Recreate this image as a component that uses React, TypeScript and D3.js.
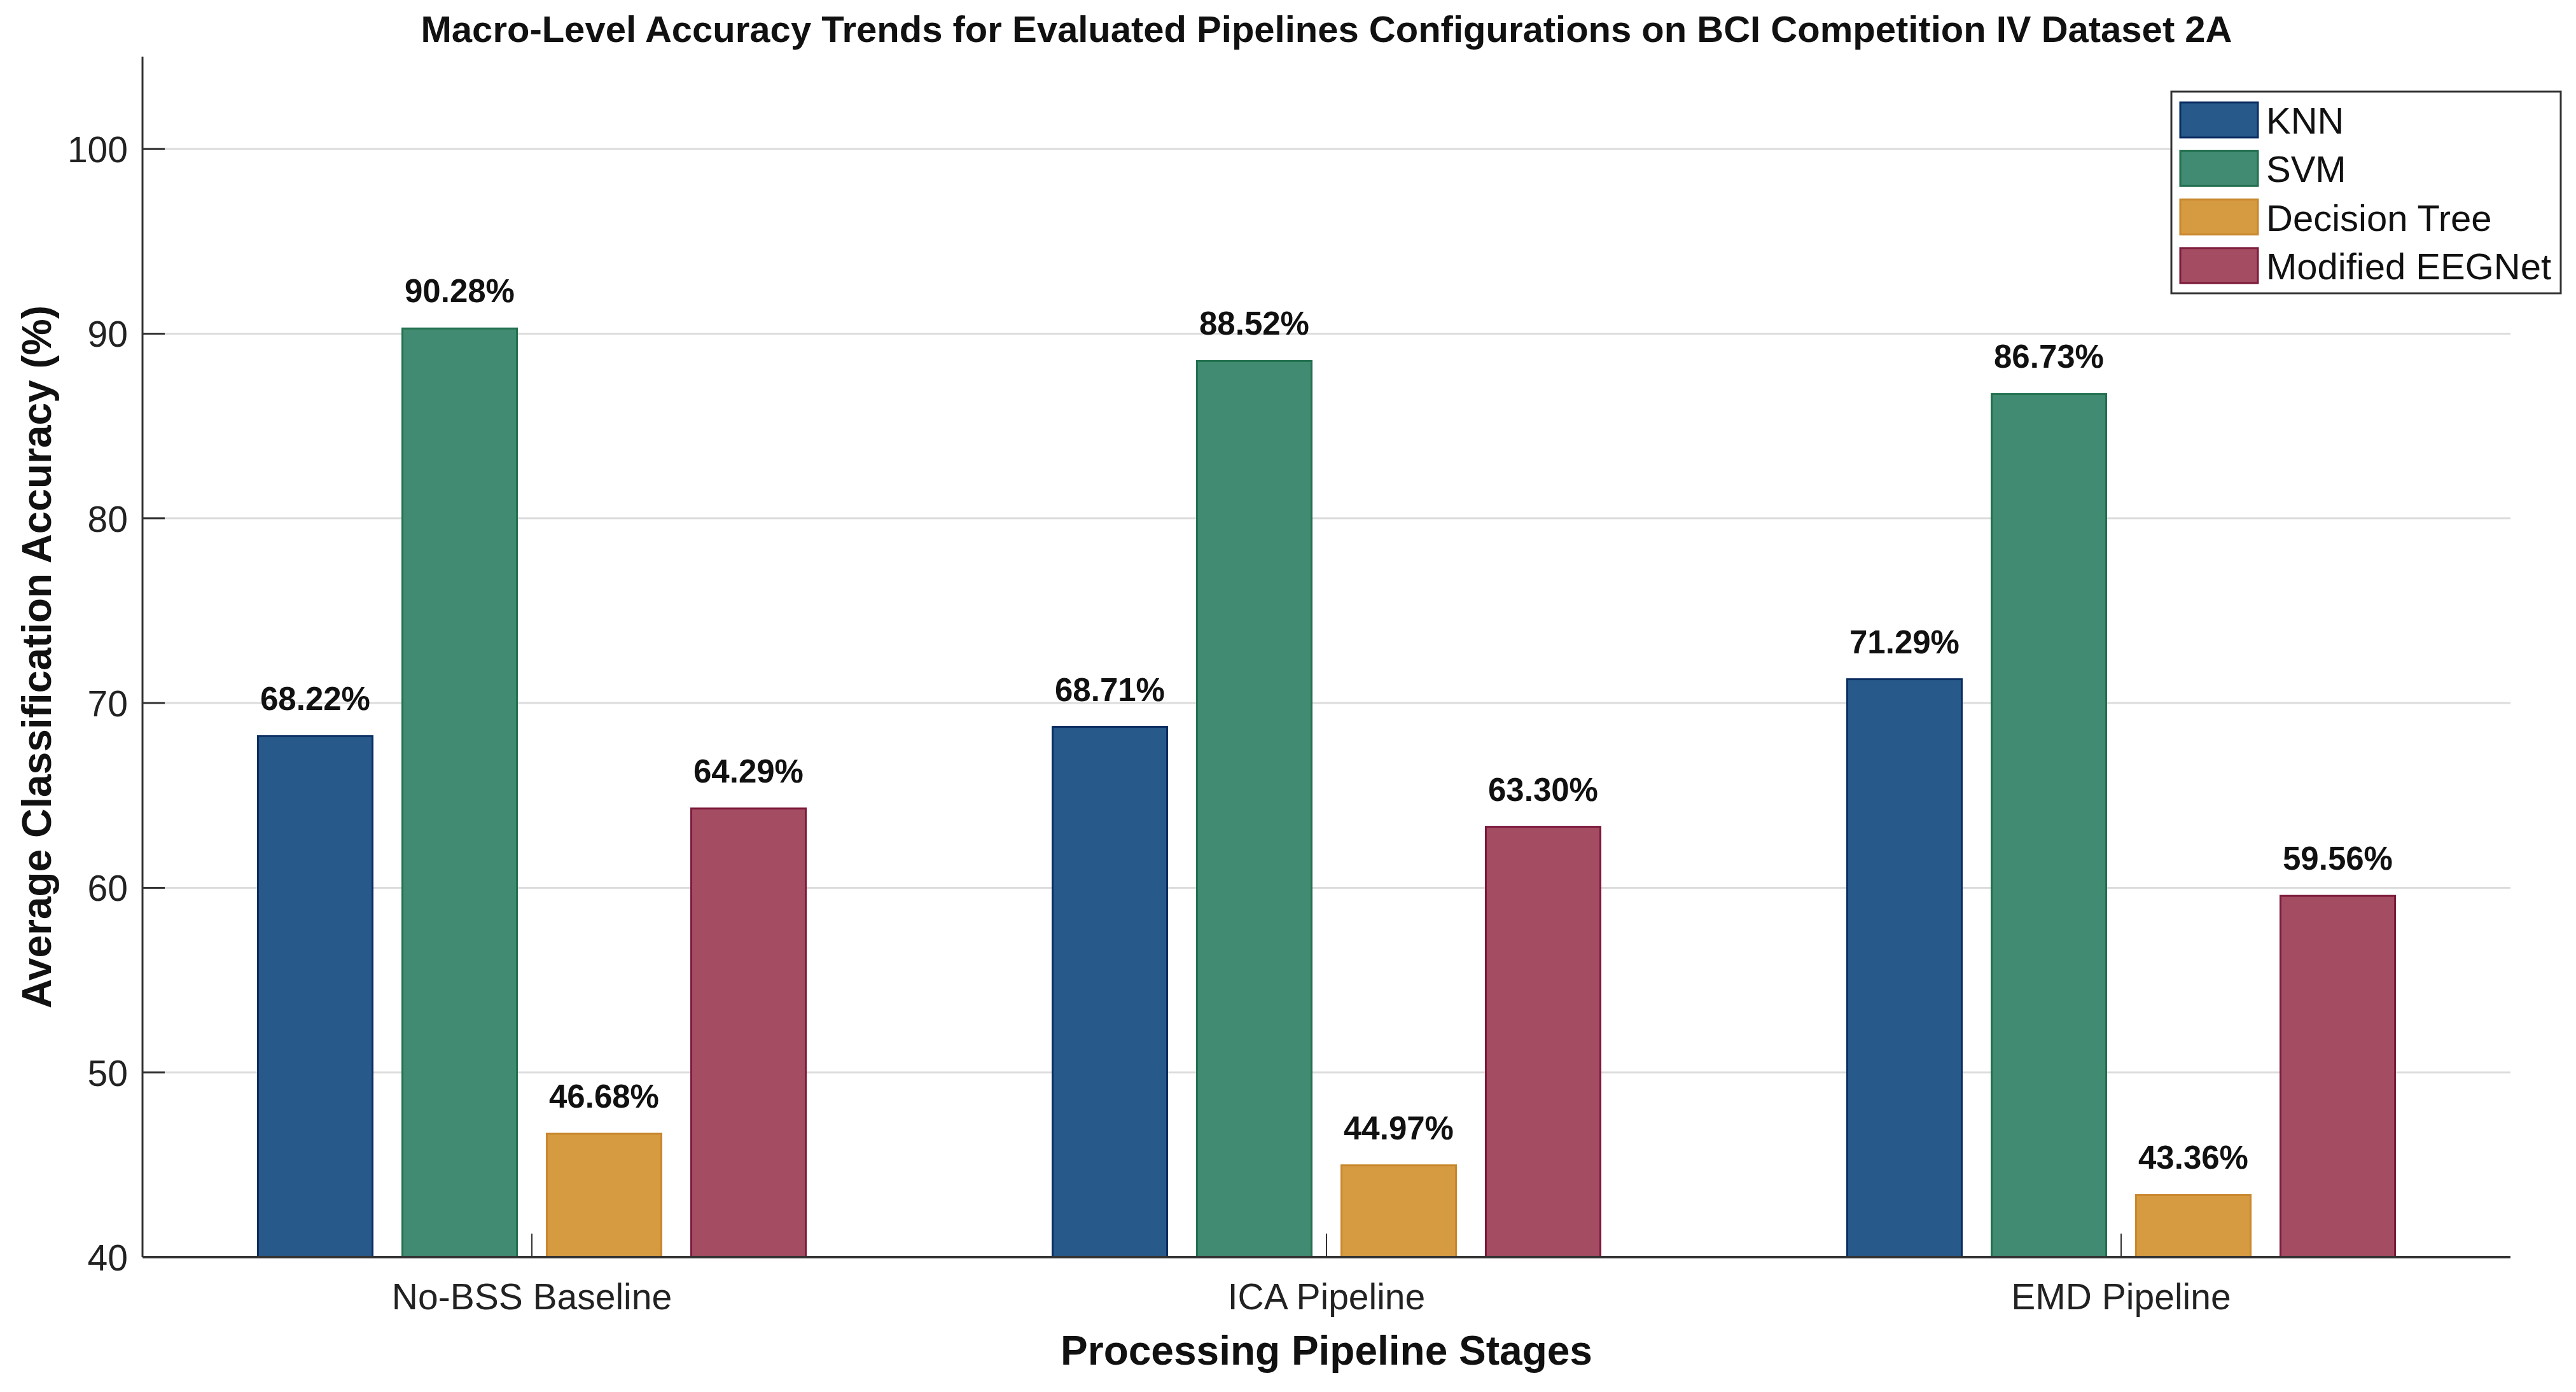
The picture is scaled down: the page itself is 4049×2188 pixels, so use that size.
import React from "react";
import * as d3 from "d3";

const categories = ["No-BSS Baseline", "ICA Pipeline", "EMD Pipeline"];
const seriesNames = ["KNN", "SVM", "Decision Tree", "Modified EEGNet"];
const knnValues = [68.22, 68.71, 71.29];
const svmValues = [90.28, 88.52, 86.73];
const dtValues = [46.68, 44.97, 43.36];
const eegnetValues = [64.29, 63.3, 59.56];
const yTicks = [40, 50, 60, 70, 80, 90, 100];
const fills = ["#275A8A", "#408B71", "#D69A41", "#A44C62"];
const edges = ["#0B2E62", "#22704F", "#C9872E", "#7D1B3C"];

const W = 4049;
const H = 2188;
const left = 224;
const right = 3946;
const top = 89;
const bottom = 1976;
const FONT = "'Liberation Sans', Arial, Helvetica, sans-serif";

export default function App() {
  const values = [knnValues, svmValues, dtValues, eegnetValues];
  const y = d3.scaleLinear().domain([40, 105]).range([bottom, top]);
  const x = d3.scalePoint<string>().domain(categories).range([left, right]).padding(0.49);
  const step = 227;
  const inner = d3
    .scaleBand<string>()
    .domain(seriesNames)
    .range([-2 * step, 2 * step])
    .paddingInner(0.207)
    .paddingOuter(0.1035);

  const legendX = 3413;
  const legendY = 144;
  const legendW = 612;
  const legendH = 317;

  return (
    <svg
      width={W}
      height={H}
      style={{ display: "block", background: "#fff", position: "absolute", left: 0, top: 0 }}
      fontFamily={FONT}
    >
      <rect x={0} y={0} width={W} height={H} fill="#fff" />
      {/* gridlines */}
      {yTicks.slice(1).map((t) => (
        <line key={"g" + t} x1={left} x2={right} y1={y(t)} y2={y(t)} stroke="#DCDCDC" strokeWidth={3} />
      ))}
      {/* bars */}
      {categories.map((c, ci) =>
        seriesNames.map((s, si) => {
          const v = values[si][ci];
          const bx = (x(c) as number) + (inner(s) as number);
          const bw = inner.bandwidth();
          return (
            <g key={c + s}>
              <rect
                x={bx}
                y={y(v)}
                width={bw}
                height={y(40) - y(v)}
                fill={fills[si]}
                stroke={edges[si]}
                strokeWidth={3}
              />
              <text
                x={bx + bw / 2}
                y={y(v) - 41}
                textAnchor="middle"
                fontSize={51}
                fontWeight="bold"
                fill="#111"
              >
                {v.toFixed(2) + "%"}
              </text>
            </g>
          );
        })
      )}
      {/* axes */}
      <line x1={left} x2={left} y1={top} y2={bottom} stroke="#333" strokeWidth={3} />
      <line x1={left} x2={right} y1={bottom} y2={bottom} stroke="#333" strokeWidth={4} />
      {yTicks.map((t) => (
        <g key={"t" + t}>
          <line x1={left} x2={left + 35} y1={y(t)} y2={y(t)} stroke="#333" strokeWidth={3} />
          <text x={201} y={y(t) + 21} textAnchor="end" fontSize={57} fill="#222">
            {t}
          </text>
        </g>
      ))}
      {categories.map((c) => (
        <g key={"x" + c}>
          <line x1={x(c)} x2={x(c)} y1={bottom} y2={bottom - 37} stroke="#333" strokeWidth={2} />
          <text x={x(c)} y={2058} textAnchor="middle" fontSize={57} fill="#222">
            {c}
          </text>
        </g>
      ))}
      {/* titles */}
      <text x={(left + right) / 2} y={66} textAnchor="middle" fontSize={58} fontWeight="bold" fill="#111">
        Macro-Level Accuracy Trends for Evaluated Pipelines Configurations on BCI Competition IV Dataset 2A
      </text>
      <text x={(left + right) / 2} y={2145} textAnchor="middle" fontSize={64} fontWeight="bold" fill="#111">
        Processing Pipeline Stages
      </text>
      <text
        transform={`translate(80, ${(top + bottom) / 2}) rotate(-90)`}
        textAnchor="middle"
        fontSize={64}
        fontWeight="bold"
        fill="#111"
      >
        Average Classification Accuracy (%)
      </text>
      {/* legend */}
      <rect x={legendX} y={legendY} width={legendW} height={legendH} fill="#fff" stroke="#333" strokeWidth={3} />
      {seriesNames.map((s, i) => (
        <g key={"l" + s}>
          <rect
            x={3427}
            y={161 + i * 76.3}
            width={122}
            height={55}
            fill={fills[i]}
            stroke={edges[i]}
            strokeWidth={3}
          />
          <text x={3562} y={161 + i * 76.3 + 49} fontSize={58} fill="#111">
            {s}
          </text>
        </g>
      ))}
    </svg>
  );
}
